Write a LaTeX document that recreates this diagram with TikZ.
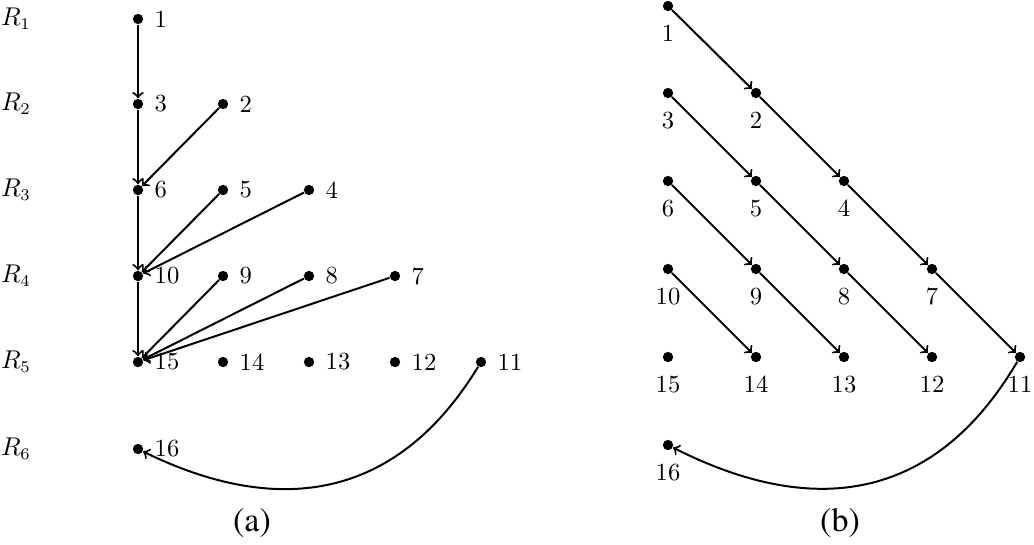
\documentclass[tikz,border=0pt]{standalone}
\newcommand\capfont{\fontencoding{OT1}\fontfamily{ptm}\selectfont}
\begin{document}
\begin{tikzpicture}[x=0.015cm,y=0.015cm,
  every node/.style={font=\fontsize{10.5}{12}\selectfont},
  dot/.style={circle,fill=black,inner sep=0pt,minimum size=4.4pt},
  lr/.style={label={[label distance=1.2pt]right:#1}},
  lb/.style={label={[label distance=2.3pt]below:#1}},
  conn/.style={->,line width=0.85pt},
  rlab/.style={inner sep=0pt},
  captext/.style={font=\capfont\fontsize{14.5}{16}\selectfont}]
\useasboundingbox (0,0) rectangle (1034,-544);
% ---------- (a) ----------
\foreach \i/\y in {1/19,2/104,3/190,4/276,5/362,6/449}
  \node[rlab] (R\i) at (16,-\y) {$R_{\i}$};
\node[dot,lr=1]  (a1)  at (138,-19) {};
\node[dot,lr=3]  (a3)  at (138,-104) {};
\node[dot,lr=2]  (a2)  at (223,-104) {};
\node[dot,lr=6]  (a6)  at (138,-190) {};
\node[dot,lr=5]  (a5)  at (223,-190) {};
\node[dot,lr=4]  (a4)  at (309,-190) {};
\node[dot,lr=10] (a10) at (138,-276) {};
\node[dot,lr=9]  (a9)  at (223,-276) {};
\node[dot,lr=8]  (a8)  at (309,-276) {};
\node[dot,lr=7]  (a7)  at (395,-276) {};
\node[dot,lr=15] (a15) at (138,-362) {};
\node[dot,lr=14] (a14) at (223,-362) {};
\node[dot,lr=13] (a13) at (309,-362) {};
\node[dot,lr=12] (a12) at (395,-362) {};
\node[dot,lr=11] (a11) at (481,-362) {};
\node[dot,lr=16] (a16) at (138,-449) {};
\draw[conn] (a1) -- (a3);
\draw[conn] (a3) -- (a6);
\draw[conn] (a2) -- (a6);
\draw[conn] (a6) -- (a10);
\draw[conn] (a5) -- (a10);
\draw[conn] (a4) -- (a10);
\draw[conn] (a10) -- (a15);
\draw[conn] (a9) -- (a15);
\draw[conn] (a8) -- (a15);
\draw[conn] (a7) -- (a15);
\draw[conn] (a11) .. controls (395,-503) and (275,-516) .. (a16);
\node[captext] (capa) at (252,-523) {(a)};
% ---------- (b) ----------
\node[dot,lb=1]  (b1)  at (668,-6) {};
\node[dot,lb=3]  (b3)  at (668,-93) {};
\node[dot,lb=2]  (b2)  at (756,-93) {};
\node[dot,lb=6]  (b6)  at (668,-181) {};
\node[dot,lb=5]  (b5)  at (756,-181) {};
\node[dot,lb=4]  (b4)  at (844,-181) {};
\node[dot,lb=10] (b10) at (668,-269) {};
\node[dot,lb=9]  (b9)  at (756,-269) {};
\node[dot,lb=8]  (b8)  at (844,-269) {};
\node[dot,lb=7]  (b7)  at (932,-269) {};
\node[dot,lb=15] (b15) at (668,-357) {};
\node[dot,lb=14] (b14) at (756,-357) {};
\node[dot,lb=13] (b13) at (844,-357) {};
\node[dot,lb=12] (b12) at (932,-357) {};
\node[dot,lb=11] (b11) at (1020,-357) {};
\node[dot,lb=16] (b16) at (668,-445) {};
\draw[conn] (b1) -- (b2);
\draw[conn] (b2) -- (b4);
\draw[conn] (b4) -- (b7);
\draw[conn] (b7) -- (b11);
\draw[conn] (b3) -- (b5);
\draw[conn] (b5) -- (b8);
\draw[conn] (b8) -- (b12);
\draw[conn] (b6) -- (b9);
\draw[conn] (b9) -- (b13);
\draw[conn] (b10) -- (b14);
\draw[conn] (b11) .. controls (934,-503) and (812,-518) .. (b16);
\node[captext] (capb) at (840,-523) {(b)};
\end{tikzpicture}
\end{document}
